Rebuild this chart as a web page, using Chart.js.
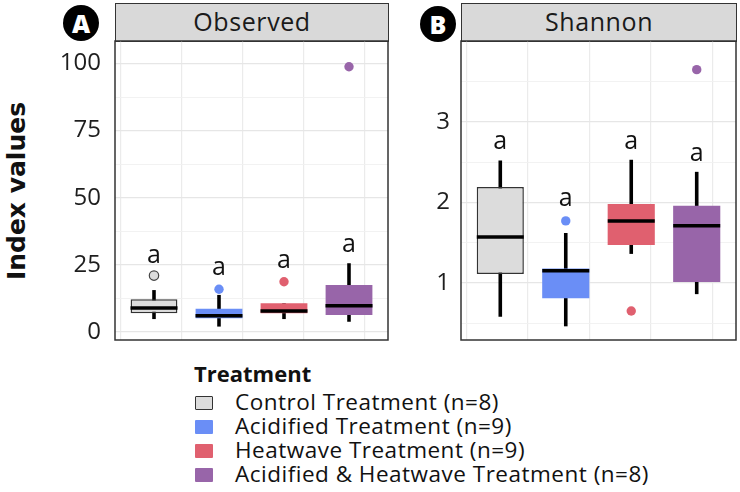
<!DOCTYPE html>
<html><head><meta charset="utf-8">
<script src="https://cdn.jsdelivr.net/npm/chart.js@4/dist/chart.umd.min.js"></script>
<style>
html,body{margin:0;padding:0;background:#fff;}
body{width:740px;height:492px;position:relative;overflow:hidden;font-family:"Open Sans",sans-serif;color:#111;}
.abs{position:absolute;}
.strip{background:#d9d9d9;border:1.5px solid #333;box-sizing:border-box;text-align:center;color:#1a1a1a;font-size:25px;line-height:34px;letter-spacing:0.6px;}
.badge{width:36px;height:36px;border-radius:50%;background:#000;color:#fff;font-weight:800;font-size:25px;line-height:36px;text-align:center;font-family:"Open Sans",sans-serif;}
.ytitle{font-family:"DejaVu Sans",sans-serif;font-weight:bold;font-size:25px;white-space:nowrap;transform:translate(-50%,-50%) rotate(-90deg);left:16px;top:191px;}
.legtitle{font-weight:bold;font-size:22px;line-height:24px;left:194px;top:361px;}
.legrow{font-size:22.5px;line-height:24px;left:235px;white-space:nowrap;letter-spacing:0.5px;}
.key{width:18px;height:14px;left:195px;box-sizing:border-box;border-radius:1px;}
</style>
</head><body>
<div class="abs badge" style="left:63px;top:5px;">A</div>
<div class="abs badge" style="left:420px;top:6px;">B</div>
<div class="abs strip" style="left:115px;top:3px;width:274px;height:39px;">Observed</div>
<div class="abs strip" style="left:461px;top:3px;width:276px;height:39px;">Shannon</div>
<div class="abs ytitle">Index values</div>
<div class="abs" style="left:0;top:37px;width:392px;height:306px;"><canvas id="cA" width="392" height="306"></canvas></div>
<div class="abs" style="left:400px;top:37px;width:340px;height:306px;"><canvas id="cB" width="340" height="306"></canvas></div>
<div id="legend"></div>
<script>
// ---- data ----
const categories = ["Control Treatment (n=8)", "Acidified Treatment (n=9)", "Heatwave Treatment (n=9)", "Acidified & Heatwave Treatment (n=8)"];
const groupLetters = ["a", "a", "a", "a"];

const obsLow    = [4.8, 2.0, 4.8, 3.8];
const obsQ1     = [7.0, 5.1, 7.0, 6.3];
const obsMedian = [8.9, 6.0, 7.8, 9.8];
const obsQ3     = [12.2, 8.6, 10.7, 17.5];
const obsHigh   = [15.6, 13.8, 10.7, 25.6];
const obsOutliers = [[21.0], [15.9], [18.7], [98.8]];
const obsLetterY  = [25.6, 21.2, 23.7, 29.9];
const obsMajorTicks = [0, 25, 50, 75, 100];
const obsMinorTicks = [12.5, 37.5, 62.5, 87.5];

const shLow    = [0.58, 0.46, 1.36, 0.86];
const shQ1     = [1.11, 0.81, 1.47, 1.01];
const shMedian = [1.57, 1.15, 1.77, 1.71];
const shQ3     = [2.19, 1.18, 1.98, 1.96];
const shHigh   = [2.52, 1.62, 2.53, 2.38];
const shOutliers = [[], [1.77], [0.65], [3.65]];
const shLetterY  = [2.66, 1.95, 2.66, 2.52];
const shMajorTicks = [1, 2, 3];
const shMinorTicks = [0.5, 1.5, 2.5, 3.5];

const xGridAt = [0.955, 1.89, 2.83, 3.77];

// ---- styles ----
const fills   = ["#dcdcdc", "#6a8ef6", "#e0606f", "#9865a9"];
const borders = ["#333333", "rgba(0,0,0,0)", "rgba(0,0,0,0)", "rgba(0,0,0,0)"];
const borderW = [1.5, 0, 0, 0];

// legend (HTML)
(function(){
  const leg = document.getElementById('legend');
  let h = '<div class="abs legtitle">Treatment</div>';
  categories.forEach((c,i)=>{
    const top = 390 + i*24;
    const bd = borderW[i] ? 'border:1.5px solid #333;' : '';
    h += `<div class="abs key" style="top:${396+i*24}px;background:${fills[i]};${bd}"></div>`;
    h += `<div class="abs legrow" style="top:${top}px;">${c.replace('&','&amp;')}</div>`;
  });
  leg.innerHTML = h;
})();

const decoPlugin = {
  id: 'deco',
  afterDatasetsDraw(chart, args, opts) {
    const {ctx, scales} = chart;
    ctx.save();
    ctx.font = '25px "Open Sans"';
    ctx.fillStyle = '#111';
    ctx.textAlign = 'center';
    ctx.textBaseline = 'alphabetic';
    opts.letterY.forEach((v, i) => {
      ctx.fillText(groupLetters[i], scales.x.getPixelForValue(i + 1), scales.y.getPixelForValue(v));
    });
    ctx.restore();
  },
  afterDraw(chart) {
    const {ctx, chartArea: a} = chart;
    ctx.save();
    ctx.strokeStyle = '#333';
    ctx.lineWidth = 1.5;
    ctx.strokeRect(a.left, a.top, a.right - a.left, a.bottom - a.top);
    ctx.restore();
  }
};

function noPad(s) { s.paddingTop = 0; s.paddingBottom = 0; s.paddingLeft = 0; s.paddingRight = 0; }

function makePanel(id, d) {
  const outPts = [], outBg = [], outBd = [], outBw = [];
  d.outliers.forEach((arr, i) => arr.forEach(v => {
    outPts.push({x: i + 1, y: v});
    outBg.push(fills[i]);
    outBd.push(i === 0 ? '#444' : fills[i]);
    outBw.push(i === 0 ? 1.2 : 0);
  }));
  const isMajor = v => d.major.includes(v);
  new Chart(document.getElementById(id), {
    type: 'bar',
    data: {
      datasets: [
        { type: 'bar', data: categories.map((c, i) => ({x: i + 1, y: [d.low[i], d.high[i]]})),
          backgroundColor: '#000', barPercentage: 0.055, categoryPercentage: 1, grouped: false, order: 4 },
        { type: 'bar', data: categories.map((c, i) => ({x: i + 1, y: [d.q1[i], d.q3[i]]})),
          backgroundColor: fills, borderColor: borders, borderWidth: borderW, borderSkipped: false,
          barPercentage: 0.72, categoryPercentage: 1, grouped: false, order: 3 },
        { type: 'scatter', data: categories.map((c, i) => ({x: i + 1, y: d.median[i]})),
          pointStyle: 'line', pointRadius: 23.5, borderWidth: 3.5, borderColor: '#000', order: 2 },
        { type: 'scatter', data: outPts, pointRadius: 4.7, backgroundColor: outBg,
          borderColor: outBd, borderWidth: outBw, order: 1 }
      ]
    },
    options: {
      responsive: false, animation: false, events: [],
      layout: { autoPadding: false, padding: { top: 4, bottom: 3, left: 0, right: 4 } },
      plugins: { legend: { display: false }, tooltip: { enabled: false }, deco: { letterY: d.letterY } },
      scales: {
        x: { type: 'linear', min: 0.4, max: 4.6, offset: false,
             afterBuildTicks: s => { s.ticks = categories.map((c, i) => ({value: i + 1})); },
             ticks: { display: false }, grid: { display: false, drawTicks: false }, border: { display: false },
             afterFit: s => { s.height = 0; noPad(s); } },
        xg: { type: 'linear', position: 'bottom', min: 0.4, max: 4.6, offset: false,
             afterBuildTicks: s => { s.ticks = xGridAt.map(v => ({value: v})); },
             ticks: { display: false }, grid: { color: '#ebebeb', lineWidth: 1.2, drawTicks: false }, border: { display: false },
             afterFit: s => { s.height = 0; noPad(s); } },
        y: { type: 'linear', min: d.min, max: d.max,
             afterBuildTicks: s => { s.ticks = d.major.concat(d.minor).sort((a, b) => a - b).map(v => ({value: v})); },
             afterFit: s => { s.width = d.axisW; noPad(s); },
             ticks: { autoSkip: false, padding: d.pad, color: '#1e1e1e', font: { family: 'Open Sans', size: 24 },
                      callback: v => isMajor(v) ? String(v) : '' },
             grid: { drawTicks: false, color: c => isMajor(c.tick.value) ? '#e6e6e6' : '#f1f1f1',
                     lineWidth: c => isMajor(c.tick.value) ? 1.2 : 0.9 },
             border: { display: false } }
      }
    },
    plugins: [decoPlugin]
  });
}

function draw() {
  makePanel('cA', { low: obsLow, q1: obsQ1, median: obsMedian, q3: obsQ3, high: obsHigh, outliers: obsOutliers,
    letterY: obsLetterY, major: obsMajorTicks, minor: obsMinorTicks, min: -3.0, max: 108.4, axisW: 115, pad: 14 });
  makePanel('cB', { low: shLow, q1: shQ1, median: shMedian, q3: shQ3, high: shHigh, outliers: shOutliers,
    letterY: shLetterY, major: shMajorTicks, minor: shMinorTicks, min: 0.29, max: 4.006, axisW: 61, pad: 11 });
}
if (document.fonts && document.fonts.load) {
  Promise.all([document.fonts.load('24px "Open Sans"'), document.fonts.load('bold 25px "DejaVu Sans"')]).then(draw, draw);
} else { draw(); }
</script>
</body></html>
